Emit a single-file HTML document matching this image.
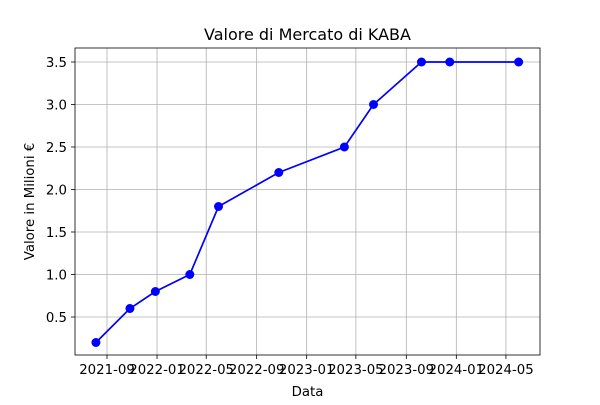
<!DOCTYPE html>
<html><head><meta charset="utf-8"><style>
body{margin:0;background:#fff;}
svg text{font-family:"DejaVu Sans","Liberation Sans",sans-serif;}
</style></head><body>
<svg id="c" width="600" height="400"></svg>
<script>
const dates=["2021-08-05","2021-10-27","2021-12-28","2022-03-22","2022-05-31","2022-10-25","2023-04-03","2023-06-13","2023-10-08","2023-12-16","2024-06-01"];
const values=[0.2,0.6,0.8,1.0,1.8,2.2,2.5,3.0,3.5,3.5,3.5];
const xTicks=["2021-09","2022-01","2022-05","2022-09","2023-01","2023-05","2023-09","2024-01","2024-05"];
const yTicks=[0.5,1.0,1.5,2.0,2.5,3.0,3.5];
const L=75,R=540,T=48,B=355;
const d0=Date.parse("2021-09-01");
function x(s){return 107+(Date.parse(s.length==7?s+"-01":s)-d0)/86400000*0.41;}
function y(v){return 317-(v-0.5)*85;}
const ns="http://www.w3.org/2000/svg",svg=document.getElementById('c');
function el(t,a,p){const e=document.createElementNS(ns,t);for(const k in a)e.setAttribute(k,a[k]);(p||svg).appendChild(e);return e;}
const grid=el('g',{});


xTicks.forEach(t=>{const X=x(t);
el('line',{x1:X,x2:X,y1:T,y2:B,stroke:'#b0b0b0','stroke-width':0.8},grid);
el('line',{x1:X,x2:X,y1:B,y2:B+4,stroke:'#000','stroke-width':0.8});
const tx=el('text',{x:X,y:B+19,'font-size':13.3,'text-anchor':'middle'});tx.textContent=t;

});
yTicks.forEach(t=>{const Y=y(t);
el('line',{x1:L,x2:R,y1:Y,y2:Y,stroke:'#b0b0b0','stroke-width':0.8},grid);
el('line',{x1:L-4,x2:L,y1:Y,y2:Y,stroke:'#000','stroke-width':0.8});
const tx=el('text',{x:L-8,y:Y+5,'font-size':13.3,'text-anchor':'end'});tx.textContent=t.toFixed(1);

});
const fr=el('rect',{x:L,y:T,width:R-L,height:B-T,fill:'none',stroke:'#000','stroke-width':0.8});


const pts=dates.map((d,i)=>x(d)+','+y(values[i])).join(' ');
const ln=el('polyline',{points:pts,fill:'none',stroke:'#0000ff','stroke-width':1.7});


dates.forEach((d,i)=>{const c=el('circle',{cx:x(d),cy:y(values[i]),r:4.5,fill:'#0000ff'});

});
let t=el('text',{x:(L+R)/2,y:40,'font-size':16,'text-anchor':'middle'});t.textContent='Valore di Mercato di KABA';


t=el('text',{x:(L+R)/2,y:396,'font-size':13.3,'text-anchor':'middle'});t.textContent='Data';


t=el('text',{x:0,y:0,'font-size':13.3,'text-anchor':'middle',transform:'translate(34,'+((T+B)/2)+') rotate(-90)'});t.textContent='Valore in Milioni €';


</script></body></html>
